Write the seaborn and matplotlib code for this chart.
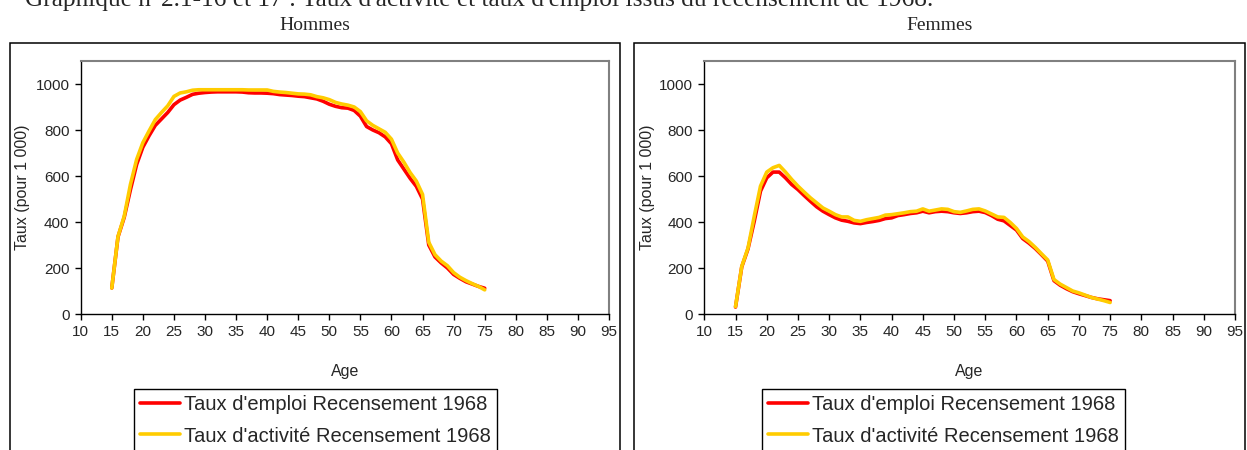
"""
Taux d'activité et taux d'emploi par âge, recensement de 1968.
Deux panneaux : Hommes / Femmes, style graphique Excel.
"""

import numpy as np
import pandas as pd
import seaborn as sns
import matplotlib.pyplot as plt
from matplotlib.patches import Rectangle

# Données (pour 1 000)
ages = np.arange(15, 76)

hommes_emploi = [113, 335, 420, 540, 650, 725, 775, 820, 848, 876,
                 910, 930, 942, 955, 960, 963, 965, 966, 966, 966,
                 966, 965, 962, 961, 961, 960, 958, 954, 952, 950,
                 947, 945, 940, 935, 925, 912, 903, 897, 895, 885,
                 860, 815, 800, 788, 770, 740, 670, 630, 590, 555,
                 500, 300, 248, 222, 200, 172, 155, 140, 130, 120, 112]

hommes_activite = [113, 337, 425, 563, 672, 745, 796, 845, 876, 905,
                   946, 961, 966, 973, 975, 975, 975, 975, 975, 975,
                   975, 975, 974, 974, 974, 974, 968, 965, 963, 960,
                   957, 956, 953, 945, 940, 932, 920, 913, 908, 900,
                   880, 840, 820, 805, 790, 760, 700, 660, 615, 578,
                   520, 312, 258, 230, 210, 180, 160, 145, 132, 120, 105]

femmes_emploi = [30, 205, 283, 403, 534, 592, 617, 617, 592, 563,
                 541, 515, 490, 466, 447, 432, 418, 408, 403, 396,
                 393, 398, 402, 407, 415, 418, 428, 432, 437, 440,
                 447, 440, 445, 447, 445, 440, 437, 440, 445, 447,
                 441, 428, 412, 405, 385, 365, 328, 308, 285, 258,
                 230, 145, 125, 110, 97, 88, 80, 72, 66, 62, 58]

femmes_activite = [32, 207, 287, 425, 556, 617, 636, 646, 617, 585,
                   556, 530, 505, 483, 461, 447, 432, 422, 422, 407,
                   403, 410, 415, 420, 430, 432, 436, 440, 445, 447,
                   457, 447, 452, 457, 455, 445, 442, 448, 455, 457,
                   448, 435, 422, 420, 398, 372, 335, 315, 290, 262,
                   235, 150, 130, 115, 100, 92, 82, 72, 65, 58, 50]

series = ["Taux d'emploi Recensement 1968", "Taux d'activité Recensement 1968"]
couleurs = ["#FF0000", "#FFCC00"]
x_ticks = list(range(10, 100, 5))
y_ticks = [0, 200, 400, 600, 800, 1000]

titre = "Graphique n°2.1-16 et 17 : Taux d'activité et taux d'emploi issus du recensement de 1968."

sns.set_style("white")
plt.rcParams["font.family"] = ["Liberation Sans", "DejaVu Sans"]

W, H = 1247, 450
fig = plt.figure(figsize=(W / 100, H / 100), dpi=100)


def fx(px):
    return px / W


def fy(py):
    return 1 - py / H


# Cadres des deux panneaux (coupés en bas)
for x0, x1 in [(10, 620), (634, 1245)]:
    fig.patches.append(Rectangle((fx(x0), -0.1), fx(x1 - x0), fy(43) + 0.1,
                                 transform=fig.transFigure, fill=False,
                                 edgecolor="black", linewidth=1.1))

# titre général, coupé en haut comme sur l'original
fig.text(fx(25), fy(6), titre, family="Liberation Serif", fontsize=18.3,
         ha="left", va="baseline")

panneaux = [
    ("Hommes", hommes_emploi, hommes_activite, 80.7, 609, 315, 134, 30),
    ("Femmes", femmes_emploi, femmes_activite, 704.3, 1235, 939.5, 762, 655),
]

for nom, emploi, activite, left, right, centre, leg_x, ylab_x in panneaux:
    ax = fig.add_axes([fx(left), fy(314), fx(right - left), (314 - 61) / H])

    df = pd.DataFrame({
        "Age": np.concatenate([ages, ages]),
        "Taux": np.concatenate([emploi, activite]),
        "Serie": [series[0]] * len(ages) + [series[1]] * len(ages),
    })

    sns.lineplot(data=df, x="Age", y="Taux", hue="Serie", hue_order=series,
                 palette=couleurs, linewidth=2.6, legend=False, ax=ax)

    ax.set_xlim(10, 95)
    ax.set_ylim(0, 1100)
    ax.set_xticks(x_ticks)
    ax.set_yticks(y_ticks)
    ax.tick_params(axis="both", direction="out", length=4, width=1,
                   color="black", labelsize=11, pad=4,
                   bottom=True, left=True)

    for cote in ["left", "bottom"]:
        ax.spines[cote].set_color("black")
        ax.spines[cote].set_linewidth(1)
    for cote in ["top", "right"]:
        ax.spines[cote].set_color("#808080")
        ax.spines[cote].set_linewidth(1.5)

    ax.set_xlabel("Age", fontsize=11.5)
    ax.set_ylabel("Taux (pour 1 000)", fontsize=11.5)
    ax.xaxis.set_label_coords(0.5, (314 - 364) / 253)
    ax.yaxis.set_label_coords((ylab_x - left) / (right - left), 0.5)

    fig.text(fx(centre), fy(25), nom, family="Liberation Serif",
             fontsize=14, ha="center", va="center")

    ax.legend(ax.lines, series, loc="upper left",
              bbox_to_anchor=(fx(leg_x), fy(389)),
              bbox_transform=fig.transFigure, fontsize=14.5,
              frameon=True, fancybox=False, edgecolor="black",
              framealpha=1, borderaxespad=0, borderpad=0.3,
              handlelength=2.0, handletextpad=0.2, labelspacing=0.62)
    ax.get_legend().get_frame().set_linewidth(1)

fig.savefig("out.png", dpi=100)
